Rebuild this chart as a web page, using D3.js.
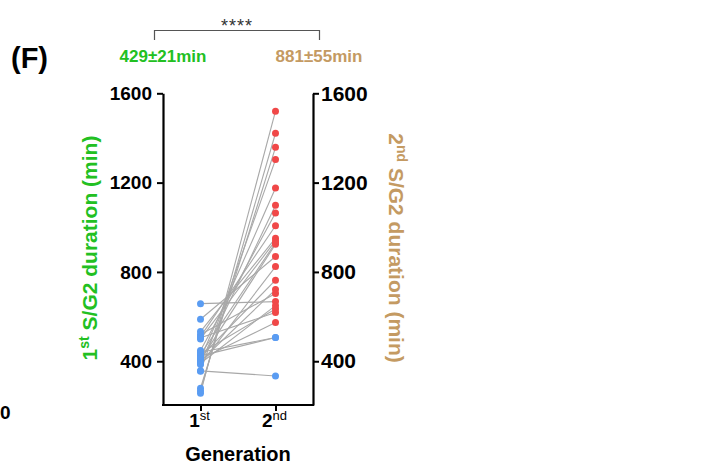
<!DOCTYPE html>
<html><head><meta charset="utf-8">
<script src="https://cdn.jsdelivr.net/npm/d3@7"></script>
<style>body{margin:0;background:#fff}svg{display:block;font-family:"Liberation Sans",Arial,sans-serif}</style>
</head><body><div id="chart"></div>
<script>
const generations = ["1st", "2nd"];
const firstGen  = [658, 588, 533, 520, 510, 505, 500, 448, 440, 436, 430, 424, 420, 413, 410, 405, 400, 394, 391, 385, 357, 355, 279, 267, 257];
const secondGen = [667, 869, 951, 703, 1007, 618, 940, 1064, 506, 634, 931, 506, 763, 1176, 573, 924, 721, 1099, 649, 824, 334, 1303, 1358, 1421, 1520];
const yTicks = [400, 800, 1200, 1600];
const meanLabels = ["429±21min", "881±55min"];
const sigLabel = "****";
const blueThreshold = 550;

const W = 717, H = 467;
const svg = d3.select("#chart").append("svg").attr("width", W).attr("height", H);
const green = "#22c022", tan = "#c49a62", blue = "#5a9cf2", red = "#f04848";

const x = d3.scalePoint().domain(generations).range([163, 313]).padding(0.5);
const y = d3.scaleLinear().domain([204, 1600]).range([405, 93.3]);

// lines
const pairs = firstGen.map((v, i) => [v, secondGen[i]]);
svg.append("g").selectAll("line").data(pairs).join("line")
  .attr("x1", x("1st")).attr("x2", x("2nd"))
  .attr("y1", d => y(d[0])).attr("y2", d => y(d[1]))
  .attr("stroke", "#a8a8a8").attr("stroke-width", 1.1);

// points
svg.append("g").selectAll("circle").data(firstGen).join("circle")
  .attr("cx", x("1st")).attr("cy", d => y(d)).attr("r", 3.5).attr("fill", blue);
svg.append("g").selectAll("circle").data(secondGen).join("circle")
  .attr("cx", x("2nd")).attr("cy", d => y(d)).attr("r", 3.5)
  .attr("fill", d => d < blueThreshold ? blue : red);

// axes
const fmt = d3.format("d");
const left = svg.append("g").attr("transform", "translate(163,0)")
  .call(d3.axisLeft(y).tickValues(yTicks).tickFormat(fmt).tickSize(6).tickPadding(5).tickSizeOuter(0));
left.select(".domain").attr("stroke-width", 2.2);
left.selectAll(".tick line").attr("stroke-width", 2);
left.selectAll(".tick text").attr("font-size", 19).attr("font-weight", "bold").attr("fill", "#000")
  .attr("font-family", "Liberation Sans, Arial, sans-serif");

const right = svg.append("g").attr("transform", "translate(313,0)")
  .call(d3.axisRight(y).tickValues(yTicks).tickFormat(fmt).tickSize(6).tickPadding(2).tickSizeOuter(0));
right.select(".domain").attr("stroke-width", 2.2);
right.selectAll(".tick line").attr("stroke-width", 2);
right.selectAll(".tick text").attr("font-size", 21).attr("font-weight", "bold").attr("fill", "#000")
  .attr("font-family", "Liberation Sans, Arial, sans-serif");

const bottom = svg.append("g").attr("transform", "translate(0,405)")
  .call(d3.axisBottom(x).tickSize(6).tickSizeOuter(0).tickFormat(""));
bottom.select(".domain").attr("stroke-width", 2.2).attr("d", "M162,0H314");
bottom.selectAll(".tick line").attr("stroke-width", 2);

// bottom tick labels with superscripts
generations.forEach(g => {
  const t = svg.append("text").attr("x", x(g) - 1).attr("y", 427).attr("text-anchor", "middle")
    .attr("font-size", 19).attr("font-weight", "bold").attr("fill", "#000");
  t.append("tspan").text(g.slice(0, 1));
  t.append("tspan").text(g.slice(1)).attr("font-size", 13).attr("font-weight", "normal").attr("dy", -7);
});
svg.append("text").attr("x", 238).attr("y", 461).attr("text-anchor", "middle")
  .attr("font-size", 20).attr("font-weight", "bold").text("Generation");

// axis titles
function title(xp, rot, color, lead, sup) {
  const t = svg.append("text").attr("transform", `translate(${xp},248) rotate(${rot})`)
    .attr("text-anchor", "middle").attr("font-size", 21).attr("font-weight", "bold").attr("fill", color);
  t.append("tspan").text(lead);
  t.append("tspan").text(sup).attr("font-size", 14).attr("dy", -8);
  t.append("tspan").text(" S/G2 duration (min)").attr("dy", 8);
}
title(97, -90, green, "1", "st");
title(389, 90, tan, "2", "nd");

// header
svg.append("text").attr("x", 11).attr("y", 68).attr("font-size", 29).attr("font-weight", "bold").text("(F)");
svg.append("text").attr("x", 163).attr("y", 62).attr("text-anchor", "middle").attr("font-size", 17)
  .attr("font-weight", "bold").attr("fill", green).text(meanLabels[0]);
svg.append("text").attr("x", 319).attr("y", 62).attr("text-anchor", "middle").attr("font-size", 17)
  .attr("font-weight", "bold").attr("fill", tan).text(meanLabels[1]);
svg.append("path").attr("d", "M154.5,40V30.5H319.5V40").attr("fill", "none").attr("stroke", "#555").attr("stroke-width", 1.2);
svg.append("text").attr("x", 237).attr("y", 32).attr("text-anchor", "middle").attr("font-size", 18)
  .attr("letter-spacing", 1).attr("fill", "#333").text(sigLabel);

// neighbouring panel label
svg.append("text").attr("x", 0).attr("y", 419).attr("font-size", 19)
  .attr("font-weight", "bold").text("0");
</script></body></html>
